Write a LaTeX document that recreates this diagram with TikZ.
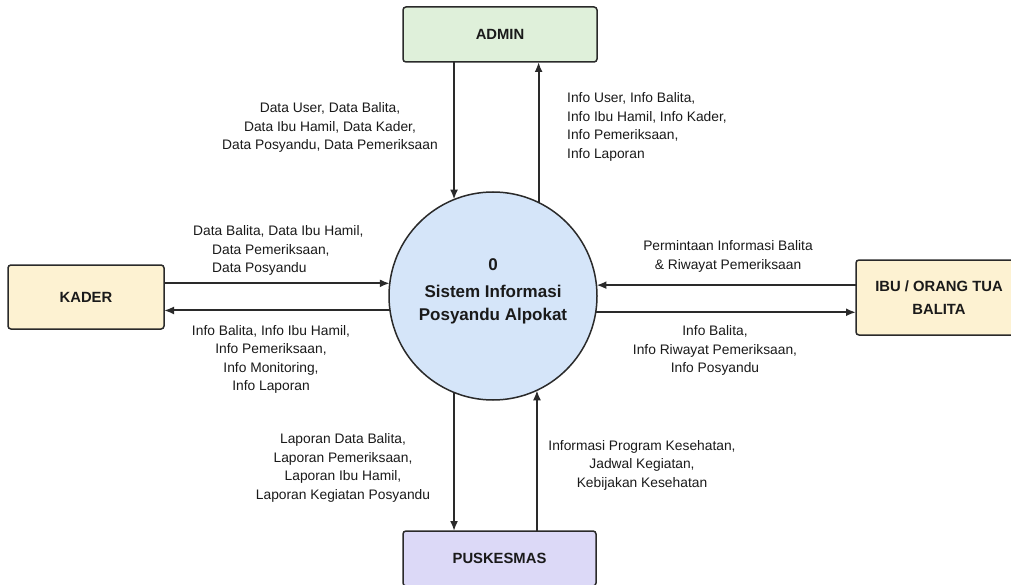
\documentclass[tikz,border=0pt]{standalone}
\usepackage{fontspec}
\setmainfont{Liberation Sans}
\usetikzlibrary{arrows.meta}
\definecolor{edge}{HTML}{2A2A2A}
\definecolor{txt}{HTML}{1A1A1A}
\definecolor{adminfill}{HTML}{DFF0DA}
\definecolor{creamfill}{HTML}{FDF2D2}
\definecolor{purplefill}{HTML}{DCD9F7}
\definecolor{bluefill}{HTML}{D5E5F9}
\tikzset{
  entity/.style={draw=edge, line width=1.5pt, rounded corners=3pt, inner sep=0pt, outer sep=0pt,
    align=center, text=txt, font=\fontsize{14.8}{23}\selectfont\bfseries},
  proc/.style={circle, draw=edge, line width=1.5pt, fill=bluefill, minimum size=208pt, inner sep=0pt, outer sep=0pt},
  proctext/.style={align=center, text=txt, inner sep=0pt, font=\fontsize{17}{23}\selectfont\bfseries},
  flowlabel/.style={align=center, text=txt, inner sep=0pt, font=\fontsize{13.8}{18.5}\selectfont},
  flow/.style={draw=edge, line width=2pt, -{Latex[length=10pt,width=8pt]}}
}
\begin{document}
\begin{tikzpicture}[x=1pt,y=-1pt]
\useasboundingbox (0,0) rectangle (1011,585);
\clip (0,0) rectangle (1011,585);
\fill[white] (0,0) rectangle (1011,585);

\node[entity, fill=adminfill, minimum width=194pt, minimum height=55pt] (admin) at (500,34.5) {ADMIN};
\node[entity, fill=creamfill, minimum width=156pt, minimum height=64pt] (kader) at (86,297) {KADER};
\node[entity, fill=creamfill, minimum width=166pt, minimum height=75pt] (ibu) at (939,297.5) {IBU / ORANG TUA\\BALITA};
\node[entity, fill=purplefill, minimum width=193pt, minimum height=55pt] (pusk) at (499.5,558.5) {PUSKESMAS};

\node[proc] (sys) at (493,296) {};
\node[proctext] (systext) at (493,291) {0\\[4pt]Sistem Informasi\\Posyandu Alpokat};

% ADMIN
\draw[flow] (admin.south -| sys.112) -- (sys.112);
\draw[flow] (sys.64.4) -- (admin.south -| sys.64.4);
% KADER
\draw[flow] (kader.east |- sys.173.9) -- (sys.173.9);
\draw[flow] (sys.188.3) -- (kader.east |- sys.188.3);
% IBU
\draw[flow] (ibu.west |- sys.6.07) -- (sys.6.07);
\draw[flow] (sys.351.7) -- (ibu.west |- sys.351.7);
% PUSKESMAS
\draw[flow] (sys.248) -- (pusk.north -| sys.248);
\draw[flow] (pusk.north -| sys.295.6) -- (sys.295.6);

% labels
\node[flowlabel] (l1) at (330,127.5) {Data User, Data Balita,\\Data Ibu Hamil, Data Kader,\\Data Posyandu, Data Pemeriksaan};
\node[flowlabel, align=left, anchor=west] (l2) at (567,127) {Info User, Info Balita,\\Info Ibu Hamil, Info Kader,\\Info Pemeriksaan,\\Info Laporan};
\node[flowlabel, align=left, anchor=west] (l3) at (193,250.5) {Data Balita, Data Ibu Hamil,\\\hspace*{19pt}Data Pemeriksaan,\\\hspace*{19pt}Data Posyandu};
\node[flowlabel] (l4) at (271,359.5) {Info Balita, Info Ibu Hamil,\\Info Pemeriksaan,\\Info Monitoring,\\Info Laporan};
\node[flowlabel] (l5) at (728,256.5) {Permintaan Informasi Balita\\\& Riwayat Pemeriksaan};
\node[flowlabel] (l6) at (715,350.5) {Info Balita,\\Info Riwayat Pemeriksaan,\\Info Posyandu};
\node[flowlabel] (l7) at (343,468) {Laporan Data Balita,\\Laporan Pemeriksaan,\\Laporan Ibu Hamil,\\Laporan Kegiatan Posyandu};
\node[flowlabel] (l8) at (642,465) {Informasi Program Kesehatan,\\Jadwal Kegiatan,\\Kebijakan Kesehatan};
\end{tikzpicture}
\end{document}
